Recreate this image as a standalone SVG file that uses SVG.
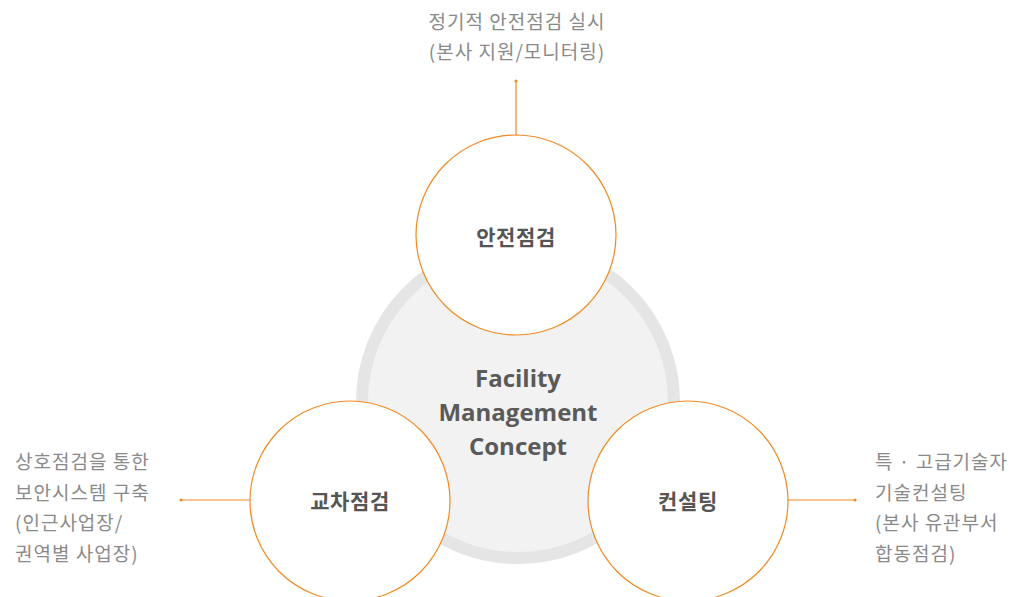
<svg xmlns="http://www.w3.org/2000/svg" width="1011" height="597" viewBox="0 0 1011 597">
<style>
.node{fill:#fff;stroke:#f08a24;stroke-width:1.2}
.lbl{font-family:"Noto Sans CJK KR","Noto Sans",sans-serif;font-weight:700;font-size:21px;letter-spacing:0.6px;fill:#555;text-anchor:middle}
.desc{font-family:"Noto Sans CJK KR","Noto Sans",sans-serif;font-weight:400;font-size:19px;letter-spacing:1px;fill:#8a8a8a}
.ctr{font-family:"Open Sans","Noto Sans",sans-serif;font-weight:700;font-size:24px;fill:#5a5a5a;text-anchor:middle}
.conn{stroke:#f08a24;stroke-width:1.2;fill:none}
.dot{fill:#f08a24}
</style>
<rect width="1011" height="597" fill="#fff"/>
<g id="center">
<circle cx="518" cy="402" r="156" fill="#f2f2f2" stroke="#e5e5e5" stroke-width="12"/>
<text class="ctr" x="518" y="387">Facility</text>
<text class="ctr" x="518" y="421">Management</text>
<text class="ctr" x="518" y="455">Concept</text>
</g>
<g id="connectors">
<line class="conn" x1="516" y1="81" x2="516" y2="135"/>
<circle class="dot" cx="516" cy="81" r="1.6"/>
<line class="conn" x1="181" y1="500" x2="250" y2="500"/>
<circle class="dot" cx="181" cy="500" r="1.6"/>
<line class="conn" x1="788" y1="500" x2="855" y2="500"/>
<circle class="dot" cx="855" cy="500" r="1.6"/>
</g>
<g id="node-top">
<circle class="node" cx="516" cy="235" r="100"/>
<text class="lbl" x="516" y="245">안전점검</text>
</g>
<g id="node-left">
<circle class="node" cx="350" cy="501" r="100"/>
<text class="lbl" x="350" y="509">교차점검</text>
</g>
<g id="node-right">
<circle class="node" cx="688" cy="501" r="100"/>
<text class="lbl" x="688" y="509">컨설팅</text>
</g>
<g id="desc-top">
<text class="desc" x="517" y="29" text-anchor="middle" font-size="20" letter-spacing="1.8">정기적 안전점검 실시</text>
<text class="desc" x="517" y="59" text-anchor="middle" font-size="20" letter-spacing="1.8">(본사 지원/모니터링)</text>
</g>
<g id="desc-left">
<text class="desc" x="15" y="469">상호점검을 통한</text>
<text class="desc" x="15" y="500">보안시스템 구축</text>
<text class="desc" x="15" y="530">(인근사업장/</text>
<text class="desc" x="15" y="561">권역별 사업장)</text>
</g>
<g id="desc-right">
<text class="desc" x="875" y="469">특 · 고급기술자</text>
<text class="desc" x="875" y="500">기술컨설팅</text>
<text class="desc" x="875" y="530">(본사 유관부서</text>
<text class="desc" x="875" y="561">합동점검)</text>
</g>
</svg>
